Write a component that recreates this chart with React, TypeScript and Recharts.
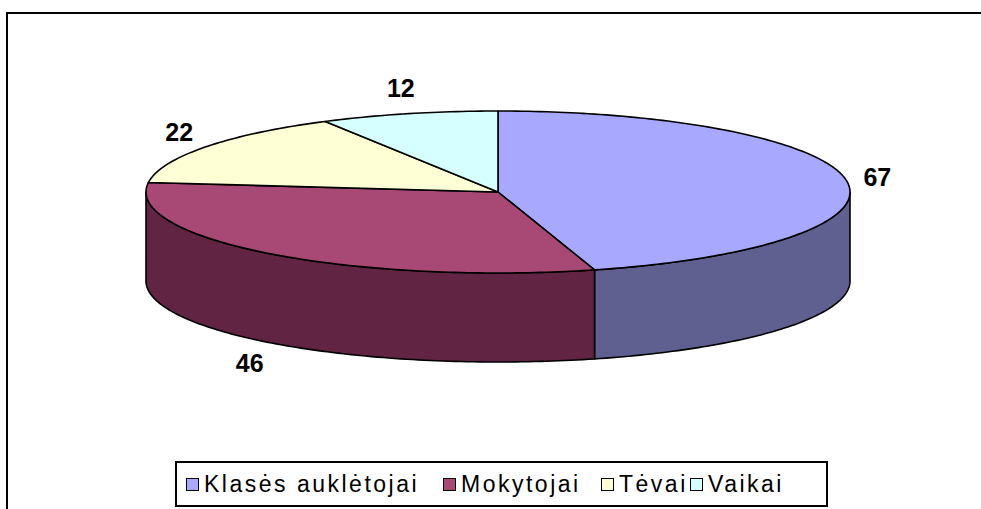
import { Legend, Pie, PieChart } from 'recharts'

const categories = ['Klasės auklėtojai', 'Mokytojai', 'Tėvai', 'Vaikai']
const values = [67, 46, 22, 12]
const topColors = ['#A8A8FF', '#A84874', '#FFFFD6', '#D6FFFF']
const sideColors = ['#606090', '#612442', '#909078', '#789090']
const legendColors = ['#A8A8FF', '#A84874', '#FFFFD6', '#D6FFFF']
const legendX = [186, 443, 601, 690]

const data = categories.map((name, i) => ({ name, value: values[i] }))

const CX = 498
const CY = 192
const R = 352
const TILT = 81 / 352
const DEPTH = 89

function pt(cx: number, cy: number, r: number, deg: number, dy = 0) {
  const a = (deg * Math.PI) / 180
  return [cx + r * Math.cos(a), cy - r * TILT * Math.sin(a) + dy]
}

function arcPoints(cx: number, cy: number, r: number, from: number, to: number, dy = 0) {
  const out: number[][] = []
  const steps = Math.max(2, Math.ceil(Math.abs(to - from)))
  for (let k = 0; k <= steps; k++) out.push(pt(cx, cy, r, from + ((to - from) * k) / steps, dy))
  return out
}

const toPath = (pts: number[][]) => pts.map((p, k) => `${k ? 'L' : 'M'}${p[0].toFixed(2)},${p[1].toFixed(2)}`).join(' ')

// draws the 3d slice (top face + front wall) from the angles recharts computed
function Slice3D(props: any) {
  const { startAngle, endAngle, index } = props
  const cx = props.cx ?? CX
  const cy = props.cy ?? CY
  const r = props.outerRadius ?? R
  const hi = Math.min(startAngle, 0)
  const lo = Math.max(endAngle, -180)
  let wall = null
  if (hi > lo) {
    const top = arcPoints(cx, cy, r, hi, lo)
    const bottom = arcPoints(cx, cy, r, lo, hi, DEPTH)
    wall = <path d={toPath([...top, ...bottom]) + ' Z'} fill={sideColors[index]} stroke="#000" strokeWidth={1.6} strokeLinejoin="round" />
  }
  const face = toPath([[cx, cy], ...arcPoints(cx, cy, r, startAngle, endAngle)]) + ' Z'
  return (
    <g key={`slice-${index}`}>
      {wall}
      <path d={face} fill={topColors[index]} stroke="#000" strokeWidth={1.6} strokeLinejoin="round" />
    </g>
  )
}

function ValueLabel(props: any) {
  const { midAngle, index } = props
  const cx = props.cx ?? CX
  const cy = props.cy ?? CY
  const a = (midAngle * Math.PI) / 180
  const s = Math.sin(a)
  const x = cx + 383 * Math.cos(a)
  const y = cy - 108 * s + (s < 0 ? DEPTH : 0)
  return (
    <text key={`lbl-${index}`} x={x} y={y} textAnchor="middle" dominantBaseline="central" fontFamily="'Liberation Sans', Arial, sans-serif" fontWeight="bold" fontSize={25} fill="#000">
      {values[index]}
    </text>
  )
}

function LegendBox() {
  return (
    <div style={{ position: 'absolute', left: 175, top: 461, width: 649, height: 42, border: '2px solid #000', background: '#fff', fontFamily: "'Liberation Sans', Arial, sans-serif", fontSize: 23, letterSpacing: 2.5, color: '#000', whiteSpace: 'nowrap' }}>
      {categories.map((c, i) => (
        <div key={c} style={{ position: 'absolute', left: legendX[i] - 177, top: 0, height: 42, display: 'flex', alignItems: 'center' }}>
          <span style={{ width: 11, height: 11, border: '1.5px solid #000', background: legendColors[i], marginRight: 5, display: 'inline-block' }} />
          <span>{c}</span>
        </div>
      ))}
    </div>
  )
}

export default function App() {
  return (
    <div style={{ position: 'absolute', left: 0, top: 0, width: 981, height: 509, overflow: 'hidden', background: '#fff' }}>
      <div style={{ position: 'absolute', left: 6, top: 12, width: 1100, height: 700, border: '2px solid #000' }} />
      <PieChart width={981} height={509} margin={{ top: 0, right: 0, bottom: 0, left: 0 }} style={{ position: 'absolute', left: 0, top: 0 }}>
        <Pie data={data} dataKey="value" nameKey="name" cx={CX} cy={CY} outerRadius={R} startAngle={90} endAngle={-270} fill="none" stroke="none" label={Slice3D} labelLine={false} isAnimationActive={false} />
        <Pie data={data} dataKey="value" nameKey="name" cx={CX} cy={CY} outerRadius={R} startAngle={90} endAngle={-270} fill="none" stroke="none" label={ValueLabel} labelLine={false} isAnimationActive={false} />
        <Legend content={() => <LegendBox />} wrapperStyle={{ position: 'absolute', left: 0, top: 0, width: 0, height: 0 }} />
      </PieChart>
    </div>
  )
}
